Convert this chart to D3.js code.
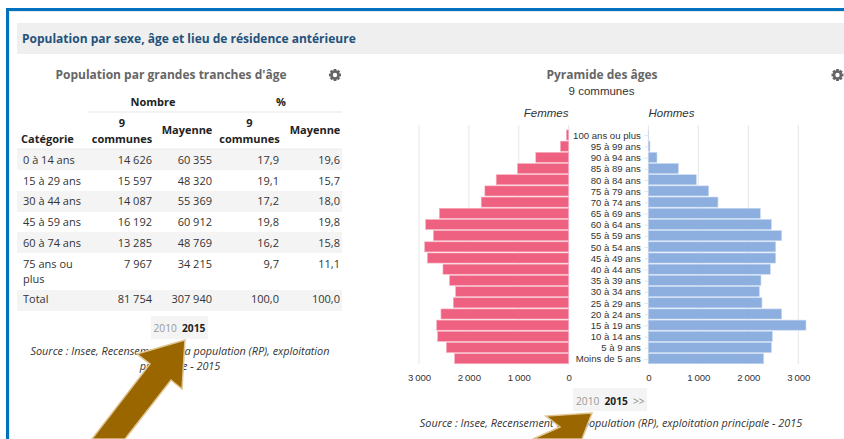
<!DOCTYPE html>
<html lang="fr">
<head>
<meta charset="utf-8">
<title>Population par sexe et âge</title>
<script src="https://cdn.jsdelivr.net/npm/d3@7"></script>
<style>
html, body { margin: 0; padding: 0; background: #fff; overflow: hidden; }
svg { display: block; font-family: "Open Sans", sans-serif; }
.grid line { stroke: #e6e6e6; }
.axis path { display: none; }
.axis text { font-family: "Liberation Sans", sans-serif; font-size: 9.6px; fill: #333; }
.ageAxis line { stroke: #e6e6e6; }
</style>
</head>
<body>
<div id="chart"></div>
<script>
// Table values
const categories = ["0 à 14 ans", "15 à 29 ans", "30 à 44 ans", "45 à 59 ans", "60 à 74 ans", "75 ans ou plus", "Total"];
const nombreCommunes = ["14 626", "15 597", "14 087", "16 192", "13 285", "7 967", "81 754"];
const nombreMayenne = ["60 355", "48 320", "55 369", "60 912", "48 769", "34 215", "307 940"];
const pctCommunes = ["17,9", "19,1", "17,2", "19,8", "16,2", "9,7", "100,0"];
const pctMayenne = ["19,6", "15,7", "18,0", "19,8", "15,8", "11,1", "100,0"];

// Pyramid values, oldest group first
const ageGroups = ["100 ans ou plus", "95 à 99 ans", "90 à 94 ans", "85 à 89 ans", "80 à 84 ans", "75 à 79 ans", "70 à 74 ans", "65 à 69 ans", "60 à 64 ans", "55 à 59 ans", "50 à 54 ans", "45 à 49 ans", "40 à 44 ans", "35 à 39 ans", "30 à 34 ans", "25 à 29 ans", "20 à 24 ans", "15 à 19 ans", "10 à 14 ans", "5 à 9 ans", "Moins de 5 ans"];
const femmes = [47, 167, 660, 1027, 1453, 1680, 1753, 2593, 2867, 2713, 2887, 2833, 2520, 2387, 2267, 2313, 2560, 2647, 2627, 2453, 2287];
const hommes = [3, 33, 173, 600, 960, 1207, 1393, 2240, 2460, 2667, 2547, 2547, 2440, 2253, 2220, 2273, 2667, 3153, 2480, 2460, 2307];
const pyramidTicks = [0, 1000, 2000, 3000];

// Annotation arrows drawn over the screenshot
const arrowLeft = [[185, 340], [137, 354], [150, 364], [92, 439], [125, 439], [171, 380], [182, 389]];
const arrowRight = [[592, 413], [546, 416], [560, 427], [533, 439], [582, 439]];

const svg = d3.select("#chart").append("svg")
    .attr("width", 844)
    .attr("height", 439);

function addText(x, y, str, size, opts) {
    const o = opts || {};
    return svg.append("text")
        .attr("x", x)
        .attr("y", y)
        .attr("text-anchor", o.anchor || "start")
        .attr("font-size", size)
        .attr("font-weight", o.weight || "normal")
        .attr("font-style", o.style || "normal")
        .attr("font-family", o.family || null)
        .attr("fill", o.fill || "#333")
        .text(str);
}

function addGear(cx, cy) {
    const g = svg.append("g").attr("transform", "translate(" + cx + "," + cy + ")");
    d3.range(8).forEach(function (i) {
        g.append("rect")
            .attr("x", -1.4).attr("y", -6)
            .attr("width", 2.8).attr("height", 3)
            .attr("fill", "#666")
            .attr("transform", "rotate(" + (i * 45) + ")");
    });
    g.append("circle").attr("r", 3.5).attr("fill", "none").attr("stroke", "#666").attr("stroke-width", 2.6);
}

// Page frame and section header
svg.append("rect").attr("x", 6).attr("y", 8).attr("width", 838).attr("height", 3).attr("fill", "#0070c0");
svg.append("rect").attr("x", 6).attr("y", 8).attr("width", 3).attr("height", 431).attr("fill", "#0070c0");
svg.append("rect").attr("x", 9).attr("y", 11).attr("width", 835).attr("height", 1).attr("fill", "#e8e8e8");
svg.append("rect").attr("x", 9).attr("y", 11).attr("width", 1).attr("height", 428).attr("fill", "#e8e8e8");
svg.append("rect").attr("x", 17).attr("y", 23).attr("width", 827).attr("height", 31).attr("fill", "#efefef");
addText(22, 43, "Population par sexe, âge et lieu de résidence antérieure", 12, { weight: "bold", fill: "#23527c" });

// Left table
addText(171, 79, "Population par grandes tranches d'âge", 12, { anchor: "middle", weight: "bold", fill: "#666" });
addGear(335, 75);

const columnEdges = [152, 212, 279, 340];
const columns = [nombreCommunes, nombreMayenne, pctCommunes, pctMayenne];
const rowBaselines = [164, 184.5, 205, 226, 246.7, 267.7, 303.3];

[[149, 21], [191, 21], [232, 21], [290, 21]].forEach(function (b) {
    svg.append("rect").attr("x", 17).attr("y", b[0]).attr("width", 325).attr("height", b[1]).attr("fill", "#f4f4f4");
});
svg.append("line").attr("x1", 87).attr("x2", 342).attr("y1", 112).attr("y2", 112).attr("stroke", "#efefef").attr("stroke-width", 1.5);
svg.append("line").attr("x1", 17).attr("x2", 342).attr("y1", 149).attr("y2", 149).attr("stroke", "#eaeaea");

addText(153, 106, "Nombre", 11, { anchor: "middle", weight: "bold", fill: "#222" });
addText(281, 106, "%", 11, { anchor: "middle", weight: "bold", fill: "#222" });
addText(21, 143, "Catégorie", 11, { weight: "bold", fill: "#222" });
addText(122, 127, "9", 11, { anchor: "middle", weight: "bold", fill: "#222" });
addText(122, 143, "communes", 11, { anchor: "middle", weight: "bold", fill: "#222" });
addText(187, 134, "Mayenne", 11, { anchor: "middle", weight: "bold", fill: "#222" });
addText(249.5, 127, "9", 11, { anchor: "middle", weight: "bold", fill: "#222" });
addText(249.5, 143, "communes", 11, { anchor: "middle", weight: "bold", fill: "#222" });
addText(315, 134, "Mayenne", 11, { anchor: "middle", weight: "bold", fill: "#222" });

categories.forEach(function (cat, i) {
    if (cat === "75 ans ou plus") {
        addText(23, rowBaselines[i], "75 ans ou", 11);
        addText(23, rowBaselines[i] + 15, "plus", 11);
    } else {
        addText(23, rowBaselines[i], cat, 11);
    }
    columns.forEach(function (col, c) {
        addText(columnEdges[c], rowBaselines[i], col[i].replace(" ", "\u00a0"), 11, { anchor: "end" });
    });
});

// Left year switch and source
svg.append("rect").attr("x", 151).attr("y", 316).attr("width", 57).attr("height", 23).attr("fill", "#f4f4f4");
addText(153.5, 332, "2010", 10.2, { fill: "#999" });
addText(182, 332, "2015", 10.2, { weight: "bold", fill: "#222" });
addText(180, 355, "Source : Insee, Recensement de la population (RP), exploitation", 10.85, { anchor: "middle", style: "italic" });
addText(180, 370, "principale - 2015", 10.85, { anchor: "middle", style: "italic" });

// Pyramid
addText(602, 79, "Pyramide des âges", 12, { anchor: "middle", weight: "bold", fill: "#666" });
addText(601.5, 95, "9 communes", 11.5, { anchor: "middle", fill: "#333", family: "Liberation Sans" });
addGear(837.5, 75);
addText(568.5, 117, "Femmes", 11.5, { anchor: "end", style: "italic", family: "Liberation Sans" });
addText(648.5, 117, "Hommes", 11.5, { style: "italic", family: "Liberation Sans" });

const plotTop = 125, plotBottom = 364;
const xLeft = d3.scaleLinear().domain([0, 3000]).range([568.7, 419]);
const xRight = d3.scaleLinear().domain([0, 3000]).range([648.3, 798.3]);
const yBand = d3.scaleBand().domain(ageGroups).range([129.4, 364.3]).paddingInner(0.1).paddingOuter(0.05);

[xLeft, xRight].forEach(function (x) {
    svg.append("g").attr("class", "grid")
        .selectAll("line")
        .data(pyramidTicks)
        .enter()
        .append("line")
        .attr("x1", function (d) { return x(d); })
        .attr("x2", function (d) { return x(d); })
        .attr("y1", plotTop)
        .attr("y2", plotBottom);
});

function drawBars(values, x, fill, stroke) {
    svg.append("g")
        .selectAll("rect")
        .data(values)
        .enter()
        .append("rect")
        .attr("x", function (d) { return Math.min(x(0), x(d)); })
        .attr("y", function (d, i) { return yBand(ageGroups[i]); })
        .attr("width", function (d) { return Math.abs(x(d) - x(0)); })
        .attr("height", yBand.bandwidth())
        .attr("fill", fill)
        .attr("stroke", stroke)
        .attr("stroke-width", 0.6);
}
drawBars(femmes, xLeft, "#ef6181", "#f7b4c3");
drawBars(hommes, xRight, "#8cafe0", "#c5d7f0");

svg.append("g")
    .attr("class", "axis ageAxis")
    .attr("transform", "translate(648.3,0.7)")
    .call(d3.axisLeft(yBand).tickSize(4).tickPadding(3.5));

function bottomAxis(x) {
    svg.append("g")
        .attr("class", "axis")
        .attr("transform", "translate(0," + plotBottom + ")")
        .call(d3.axisBottom(x).tickValues(pyramidTicks).tickSize(0).tickPadding(10)
            .tickFormat(function (d) { return d3.format(",")(d).replace(",", "\u2009"); }));
}
bottomAxis(xLeft);
bottomAxis(xRight);

// Right year switch and source
svg.append("rect").attr("x", 573).attr("y", 388).attr("width", 74).attr("height", 23).attr("fill", "#f4f4f4");
addText(576, 405, "2010", 10.2, { fill: "#999" });
addText(604.5, 405, "2015", 10.2, { weight: "bold", fill: "#222" });
addText(633, 405, ">>", 10.2, { fill: "#888" });
addText(611, 427, "Source : Insee, Recensement de la population (RP), exploitation principale - 2015", 10.85, { anchor: "middle", style: "italic" });

// Brown arrows on top of everything
[arrowLeft, arrowRight].forEach(function (pts) {
    svg.append("polygon")
        .attr("points", pts.map(function (p) { return p.join(","); }).join(" "))
        .attr("fill", "#996600")
        .attr("stroke", "#e0c48f")
        .attr("stroke-width", 1.5);
});
</script>
</body>
</html>
